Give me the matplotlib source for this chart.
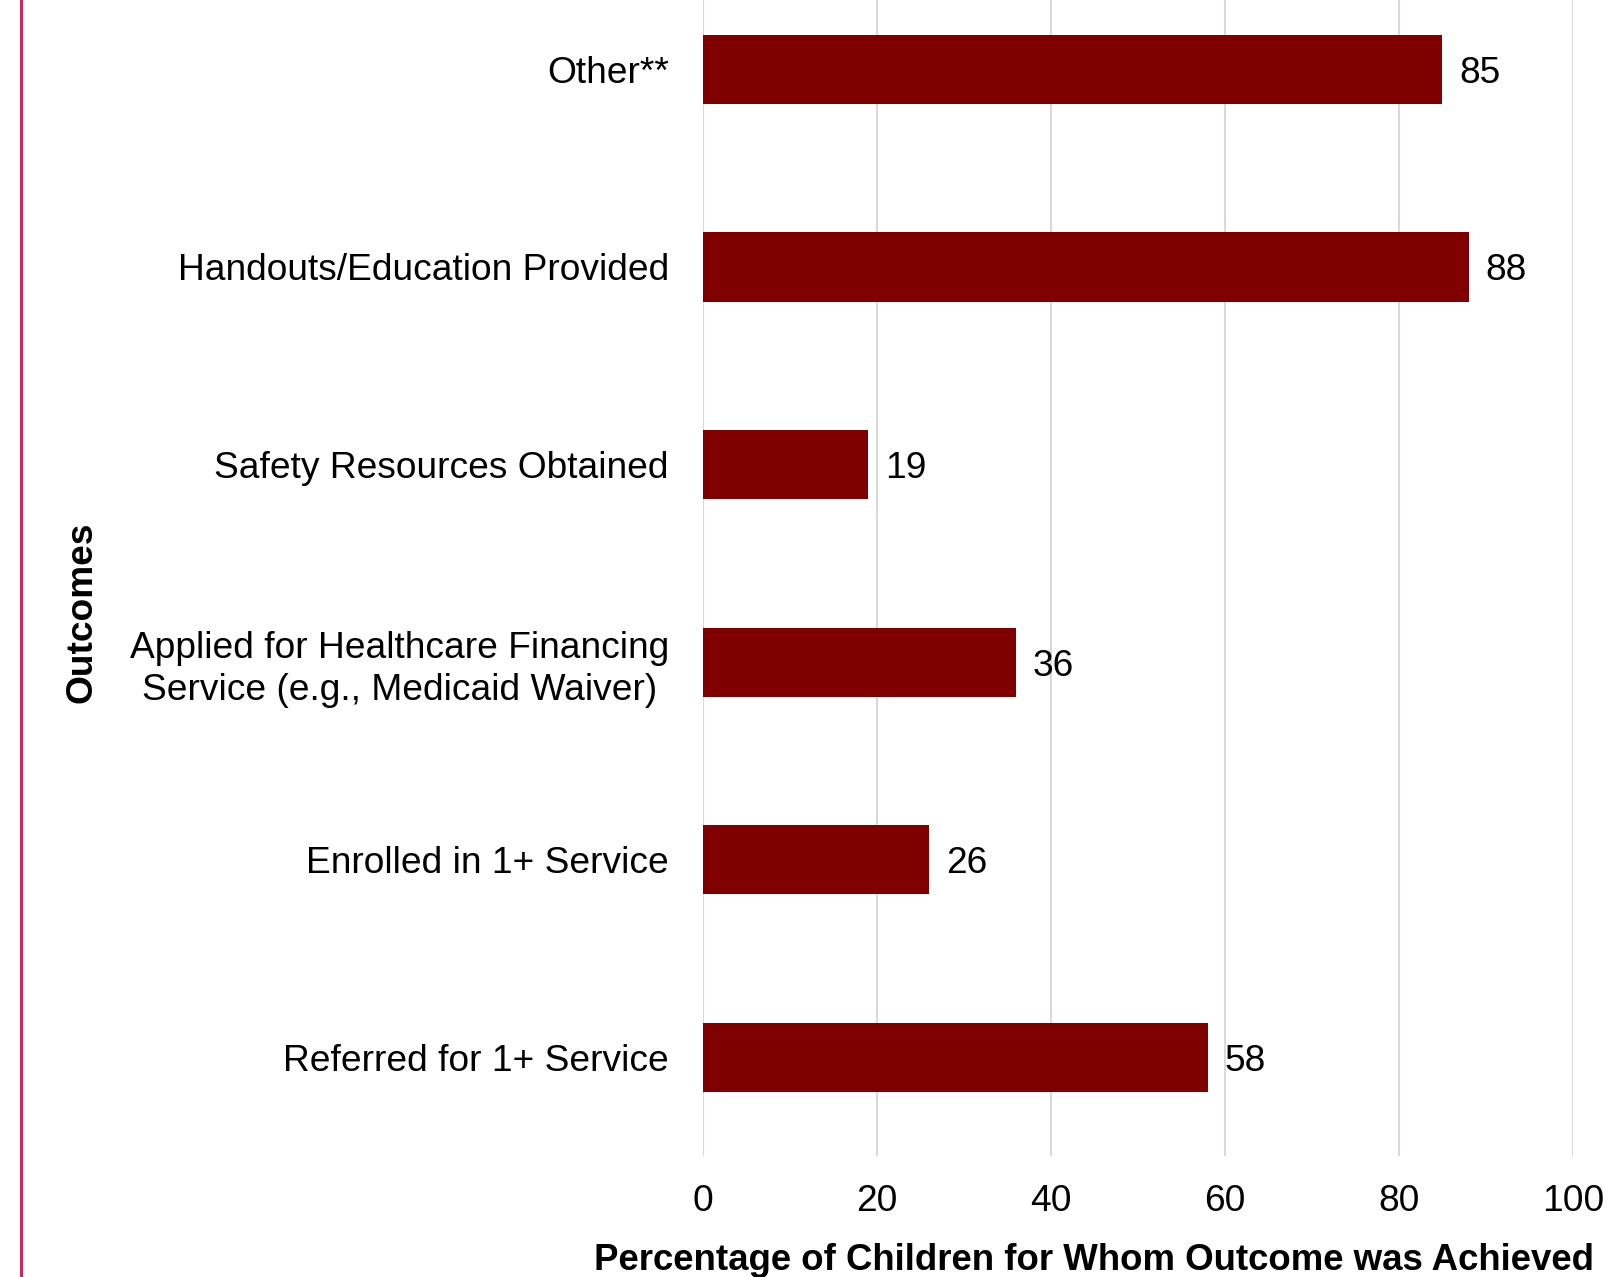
import matplotlib.pyplot as plt
import numpy as np

plt.rcParams['font.family'] = ['Liberation Sans', 'DejaVu Sans']

# datos (de arriba hacia abajo)
categorias = ["Other**",
              "Handouts/Education Provided",
              "Safety Resources Obtained",
              "Applied for Healthcare Financing\nService (e.g., Medicaid Waiver)",
              "Enrolled in 1+ Service",
              "Referred for 1+ Service"]
valores = [85, 88, 19, 36, 26, 58]
ticks_x = [0, 20, 40, 60, 80, 100]

fs = 26.7
W, H = 1611, 1277
fig = plt.figure(figsize=(W / 100, H / 100), dpi=100)
ax = fig.add_axes([703 / W, 121 / H, 870 / W, 1185.4 / H])

y = np.arange(len(categorias))
barras = ax.barh(y, valores, height=0.35, color="#800000", zorder=3)

for b, v in zip(barras, valores):
    ax.annotate(str(v), (b.get_width(), b.get_y() + b.get_height() / 2),
                xytext=(12, 0), textcoords="offset points",
                ha="left", va="center_baseline", fontsize=fs, color="black")

ax.set_ylim(len(categorias) - 0.5, -0.5)
ax.set_xlim(0, 100)
ax.set_xticks(ticks_x)
ax.set_yticks(y)
ax.set_yticklabels(categorias, multialignment="center", linespacing=1.25)
ax.tick_params(axis="both", length=0, labelsize=fs)
ax.tick_params(axis="y", pad=24.5)
ax.tick_params(axis="x", pad=20)

# grid
ax.grid(axis="x", color="#d9d9d9", lw=1.5, zorder=0)
for s in ax.spines.values():
    s.set_visible(False)

ax.set_ylabel("Outcomes", fontsize=fs, fontweight="bold")
ax.yaxis.set_label_coords((82 - 703) / 870, (H - 612 - 121) / 1185.4)

ax.set_xlabel("Percentage of Children for Whom Outcome was Achieved",
              fontsize=26.4, fontweight="bold", ha="left")
ax.xaxis.set_label_coords((594 - 703) / 870, (H - 1261 - 121) / 1185.4)
ax.xaxis.label.set_va("center")
ax.yaxis.label.set_va("center")

# linea rosa a la izquierda
fig.add_artist(plt.Line2D([20.5 / W, 20.5 / W], [0, 1], color="#d0245e", lw=2.2))

fig.savefig("out.png", dpi=100)
